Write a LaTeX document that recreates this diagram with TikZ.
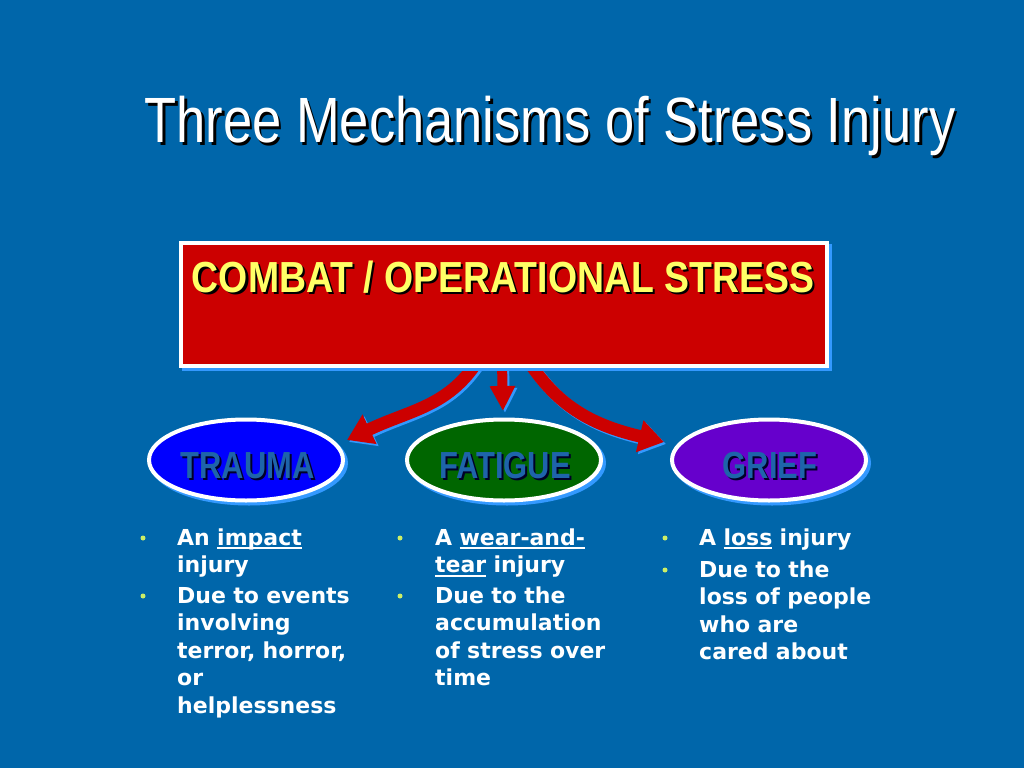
\documentclass[tikz,border=0pt]{standalone}
\usepackage{fontspec}
\setmainfont{Liberation Sans}
\newfontfamily\verd{DejaVu Sans}
\usetikzlibrary{arrows.meta,shapes.geometric,shadows}
\definecolor{bg}{RGB}{0,102,170}
\definecolor{lblue}{RGB}{51,153,255}
\definecolor{boxred}{RGB}{204,0,0}
\definecolor{ytext}{RGB}{255,255,102}
\definecolor{etext}{RGB}{30,100,170}
\definecolor{shd}{RGB}{0,0,40}
\definecolor{bul}{RGB}{204,238,102}
\definecolor{trblue}{RGB}{0,0,255}
\definecolor{fagreen}{RGB}{0,102,0}
\definecolor{grpurple}{RGB}{102,0,204}
\newlength{\ulw}
\newcommand{\shtext}[4]{\rlap{\hspace{#1}\raisebox{-#1}{\color{#3}#4}}{\color{#2}#4}}
\newcommand{\ulx}[1]{\leavevmode\settowidth{\ulw}{#1}\rlap{\rule[-4pt]{\ulw}{1.6pt}}#1}
\tikzset{
  ell/.style={ellipse, draw=white, line width=4pt, minimum width=194pt, minimum height=81pt, inner sep=0pt,
    general shadow={fill=lblue, draw=lblue, line width=4pt, shadow xshift=3pt, shadow yshift=-3pt}},
  etxt/.style={anchor=base, inner sep=0pt, font=\fontsize{37.7}{40}\selectfont\bfseries},
  arr/.style={line width=12.5pt, -{Triangle[length=25pt,width=31pt]}},
  marr/.style={line width=10pt, -{Triangle[length=25pt,width=24pt]}},
  btxt/.style={anchor=base west, inner sep=0pt, text width=230pt, align=left, text=white,
    font=\verd\bfseries\fontsize{22}{27.5}\selectfont},
  bdot/.style={circle, fill=bul, inner sep=0pt, minimum size=5pt},
}
\newcommand{\etx}[1]{\scalebox{0.82}[1]{\shtext{2.5pt}{etext}{shd}{#1}}}
\begin{document}
\begin{tikzpicture}[x=1pt,y=-1pt]
\useasboundingbox (0,0) rectangle (1024,768);
\fill[bg] (0,0) rectangle (1024,768);
% title
\node[anchor=base, inner sep=0pt] (title) at (550,142)
  {\fontsize{64}{70}\selectfont\scalebox{0.82}[1]{\shtext{3pt}{white}{black}{Three Mechanisms of Stress Injury}}};
% arrows
\coordinate (l0) at (477,362); \coordinate (l1) at (347,440);
\coordinate (m0) at (502,362); \coordinate (m1) at (503,411);
\coordinate (r0) at (529,362); \coordinate (r1) at (664,442);
\begin{scope}[transform canvas={xshift=2pt,yshift=-2pt}]
\draw[arr, lblue] (l0) .. controls +(-30,45) and +(63,-30) .. (l1);
\draw[marr, lblue] (m0) -- (m1);
\draw[arr, lblue] (r0) .. controls +(30,45) and +(-72,-17) .. (r1);
\end{scope}
\draw[arr, boxred] (l0) .. controls +(-30,45) and +(63,-30) .. (l1);
\draw[marr, boxred] (m0) -- (m1);
\draw[arr, boxred] (r0) .. controls +(30,45) and +(-72,-17) .. (r1);
% main box
\node[draw=white, line width=4pt, fill=boxred, minimum width=646pt, minimum height=123pt, inner sep=0pt,
  general shadow={fill=lblue, draw=lblue, line width=4pt, shadow xshift=3pt, shadow yshift=-3pt}] (combat) at (504,304.5) {};
\node[anchor=base, inner sep=0pt] (ctext) at (503,292)
  {\fontsize{43.5}{48}\selectfont\bfseries\scalebox{0.86}[1]{\shtext{2.5pt}{ytext}{black}{COMBAT / OPERATIONAL STRESS}}};
% ellipses
\node[ell, fill=trblue] (trauma) at (246,460) {};
\node[ell, fill=fagreen] (fatigue) at (504,460) {};
\node[ell, fill=grpurple] (grief) at (769,460) {};
\node[etxt] (traumat) at (247.5,478) {\etx{TRAUMA}};
\node[etxt] (fatiguet) at (505,478) {\etx{FATIGUE}};
\node[etxt] (grieft) at (770,478) {\etx{GRIEF}};
% bullets
\node[bdot] (d1a) at (143,538) {};
\node[bdot] (d1b) at (143,596) {};
\node[bdot] (d2a) at (400,538) {};
\node[bdot] (d2b) at (400,596) {};
\node[bdot] (d3a) at (665,538) {};
\node[bdot] (d3b) at (665,570) {};
\node[btxt] (t1a) at (177,545) {An \ulx{impact}\\injury};
\node[btxt] (t1b) at (177,603) {Due to events\\involving\\terror, horror,\\or\\helplessness};
\node[btxt] (t2a) at (435,545) {A \ulx{wear-and-}\\\ulx{tear} injury};
\node[btxt] (t2b) at (435,603) {Due to the\\accumulation\\of stress over\\time};
\node[btxt] (t3a) at (699,545) {A \ulx{loss} injury};
\node[btxt] (t3b) at (699,577) {Due to the\\loss of people\\who are\\cared about};
\end{tikzpicture}
\end{document}
